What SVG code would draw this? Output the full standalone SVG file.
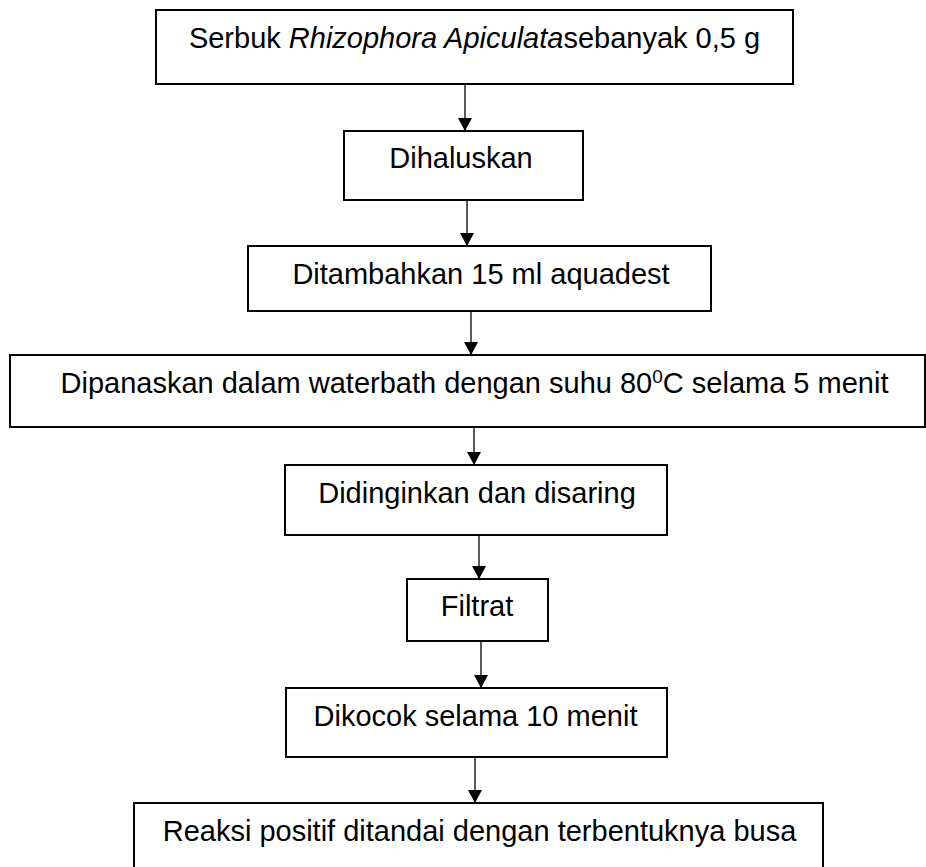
<svg xmlns="http://www.w3.org/2000/svg" width="926" height="867" viewBox="0 0 926 867">
  <style>
    .box { fill: #ffffff; stroke: #000000; stroke-width: 2; }
    .lbl { font-family: "Liberation Sans", Arial, sans-serif; font-size: 29px; fill: #000000; text-anchor: middle; }
    .conn { stroke: #000000; stroke-width: 1.3; fill: none; marker-end: url(#arrow); }
  </style>
  <defs>
    <marker id="arrow" markerWidth="14" markerHeight="14" refX="13" refY="7" orient="auto" markerUnits="userSpaceOnUse">
      <path d="M0,0 L13,7 L0,14 Z" fill="#000000"/>
    </marker>
  </defs>
  <rect x="0" y="0" width="926" height="867" fill="#ffffff"/>
  <g id="connectors">
    <line class="conn" x1="465" y1="84" x2="465" y2="131"/>
    <line class="conn" x1="467" y1="200" x2="467" y2="246"/>
    <line class="conn" x1="471" y1="311" x2="471" y2="355"/>
    <line class="conn" x1="474" y1="427" x2="474" y2="465"/>
    <line class="conn" x1="479" y1="535" x2="479" y2="579"/>
    <line class="conn" x1="481" y1="641" x2="481" y2="688"/>
    <line class="conn" x1="475" y1="757" x2="475" y2="803"/>
  </g>
  <g id="n1">
    <rect class="box" x="156" y="10" width="637" height="74"/>
    <text class="lbl" x="474.5" y="48">Serbuk <tspan font-style="italic">Rhizophora Apiculata</tspan>sebanyak 0,5 g</text>
  </g>
  <g id="n2">
    <rect class="box" x="344" y="131" width="239" height="69"/>
    <text class="lbl" x="461" y="168">Dihaluskan</text>
  </g>
  <g id="n3">
    <rect class="box" x="248" y="246" width="463" height="65"/>
    <text class="lbl" x="481" y="284">Ditambahkan 15 ml aquadest</text>
  </g>
  <g id="n4">
    <rect class="box" x="10" y="355" width="915" height="72"/>
    <text class="lbl" x="474.5" y="393">Dipanaskan dalam waterbath dengan suhu 80<tspan font-size="19" dy="-10">0</tspan><tspan dy="10">C selama 5 menit</tspan></text>
  </g>
  <g id="n5">
    <rect class="box" x="285" y="465" width="382" height="70"/>
    <text class="lbl" x="477" y="503">Didinginkan dan disaring</text>
  </g>
  <g id="n6">
    <rect class="box" x="407" y="579" width="141" height="62"/>
    <text class="lbl" x="477" y="616">Filtrat</text>
  </g>
  <g id="n7">
    <rect class="box" x="286" y="688" width="381" height="69"/>
    <text class="lbl" x="475.5" y="726">Dikocok selama 10 menit</text>
  </g>
  <g id="n8">
    <rect class="box" x="134" y="803" width="689" height="80"/>
    <text class="lbl" x="479.5" y="841">Reaksi positif ditandai dengan terbentuknya busa</text>
  </g>
</svg>
